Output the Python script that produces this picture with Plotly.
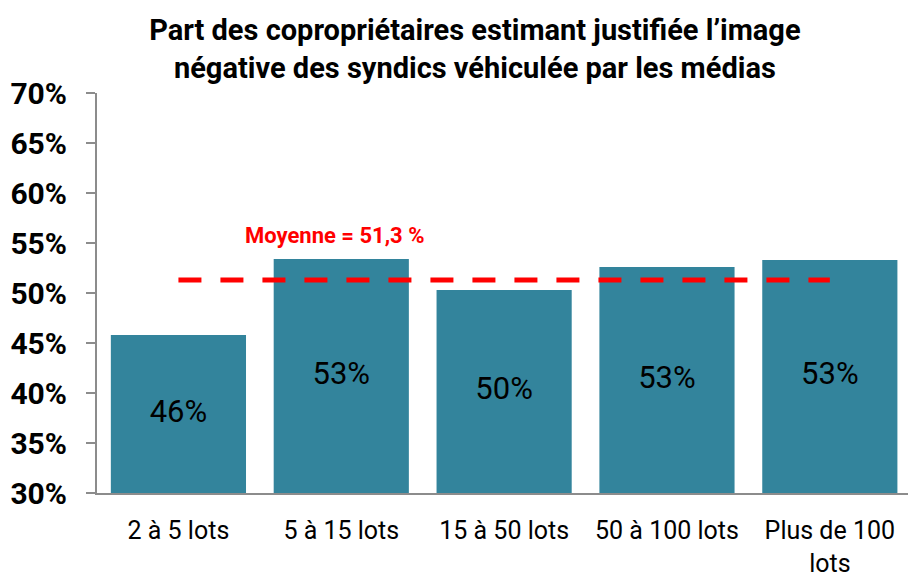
import plotly.graph_objects as go

categories = ["2 à 5 lots", "5 à 15 lots", "15 à 50 lots", "50 à 100 lots", "Plus de 100<br>lots"]
values = [45.8, 53.4, 50.3, 52.6, 53.3]
labels = ["46%", "53%", "50%", "53%", "53%"]
mean_value = 51.3
mean_label = "Moyenne = 51,3 %"
y_ticks = [30, 35, 40, 45, 50, 55, 60, 65, 70]
y_tick_text = [f"{v}%" for v in y_ticks]
title_text = "Part des copropriétaires estimant justifiée l’image<br>négative des syndics véhiculée par les médias"

FONT = "Roboto, Open Sans, sans-serif"
Y_MIN, Y_MAX = 30, 70
x_idx = list(range(len(categories)))

fig = go.Figure()
fig.add_trace(go.Bar(
    x=x_idx, y=values, textposition="none",
    marker=dict(color="#33849C", line=dict(width=0)), width=0.83,
    hoverinfo="skip"
))
# value labels centred in the visible part of each bar
fig.add_trace(go.Scatter(
    x=x_idx, y=[(Y_MIN + v) / 2 for v in values], mode="text", text=labels,
    textposition="middle center",
    textfont=dict(size=31, color="black", family=FONT), hoverinfo="skip"
))
fig.add_trace(go.Scatter(
    x=[x_idx[0], x_idx[-1]], y=[mean_value, mean_value], mode="lines",
    line=dict(color="#FF0000", width=5, dash="23px,19px"), hoverinfo="skip"
))
fig.add_annotation(x=0.96, y=55.8, text=f"<b>{mean_label}</b>", showarrow=False,
                   font=dict(size=22, color="#FF0000", family=FONT), xanchor="center", yanchor="middle")

fig.update_layout(
    width=908, height=579, showlegend=False,
    plot_bgcolor="white", paper_bgcolor="white",
    margin=dict(l=97, r=0, t=93, b=86, autoexpand=False),
    font=dict(family=FONT, color="black"),
    title=dict(text=f"<b>{title_text}</b>", x=0.523, xanchor="center",
               yref="container", y=1 - 40 / 579, yanchor="top",
               font=dict(size=29, family=FONT, color="black")),
)
fig.update_xaxes(range=[-0.5, 4.48], tickmode="array", tickvals=x_idx, ticktext=categories,
                 showline=True, linecolor="#8C8C8C", linewidth=2, ticks="", showgrid=False,
                 automargin=False,
                 tickfont=dict(size=25, family=FONT, color="black"), ticklabelstandoff=14)
fig.update_yaxes(range=[Y_MIN, Y_MAX], tickmode="array", tickvals=y_ticks,
                 ticktext=[f"<b>{t}</b>" for t in y_tick_text],
                 showline=True, linecolor="#8C8C8C", linewidth=2, ticks="outside", ticklen=9,
                 tickcolor="#8C8C8C", tickwidth=2, showgrid=False, zeroline=False,
                 automargin=False,
                 tickfont=dict(size=30, family=FONT, color="black"), ticklabelstandoff=13)

fig.write_html("out.html", config={"displayModeBar": False},
               post_script="document.body.style.margin='0';")
